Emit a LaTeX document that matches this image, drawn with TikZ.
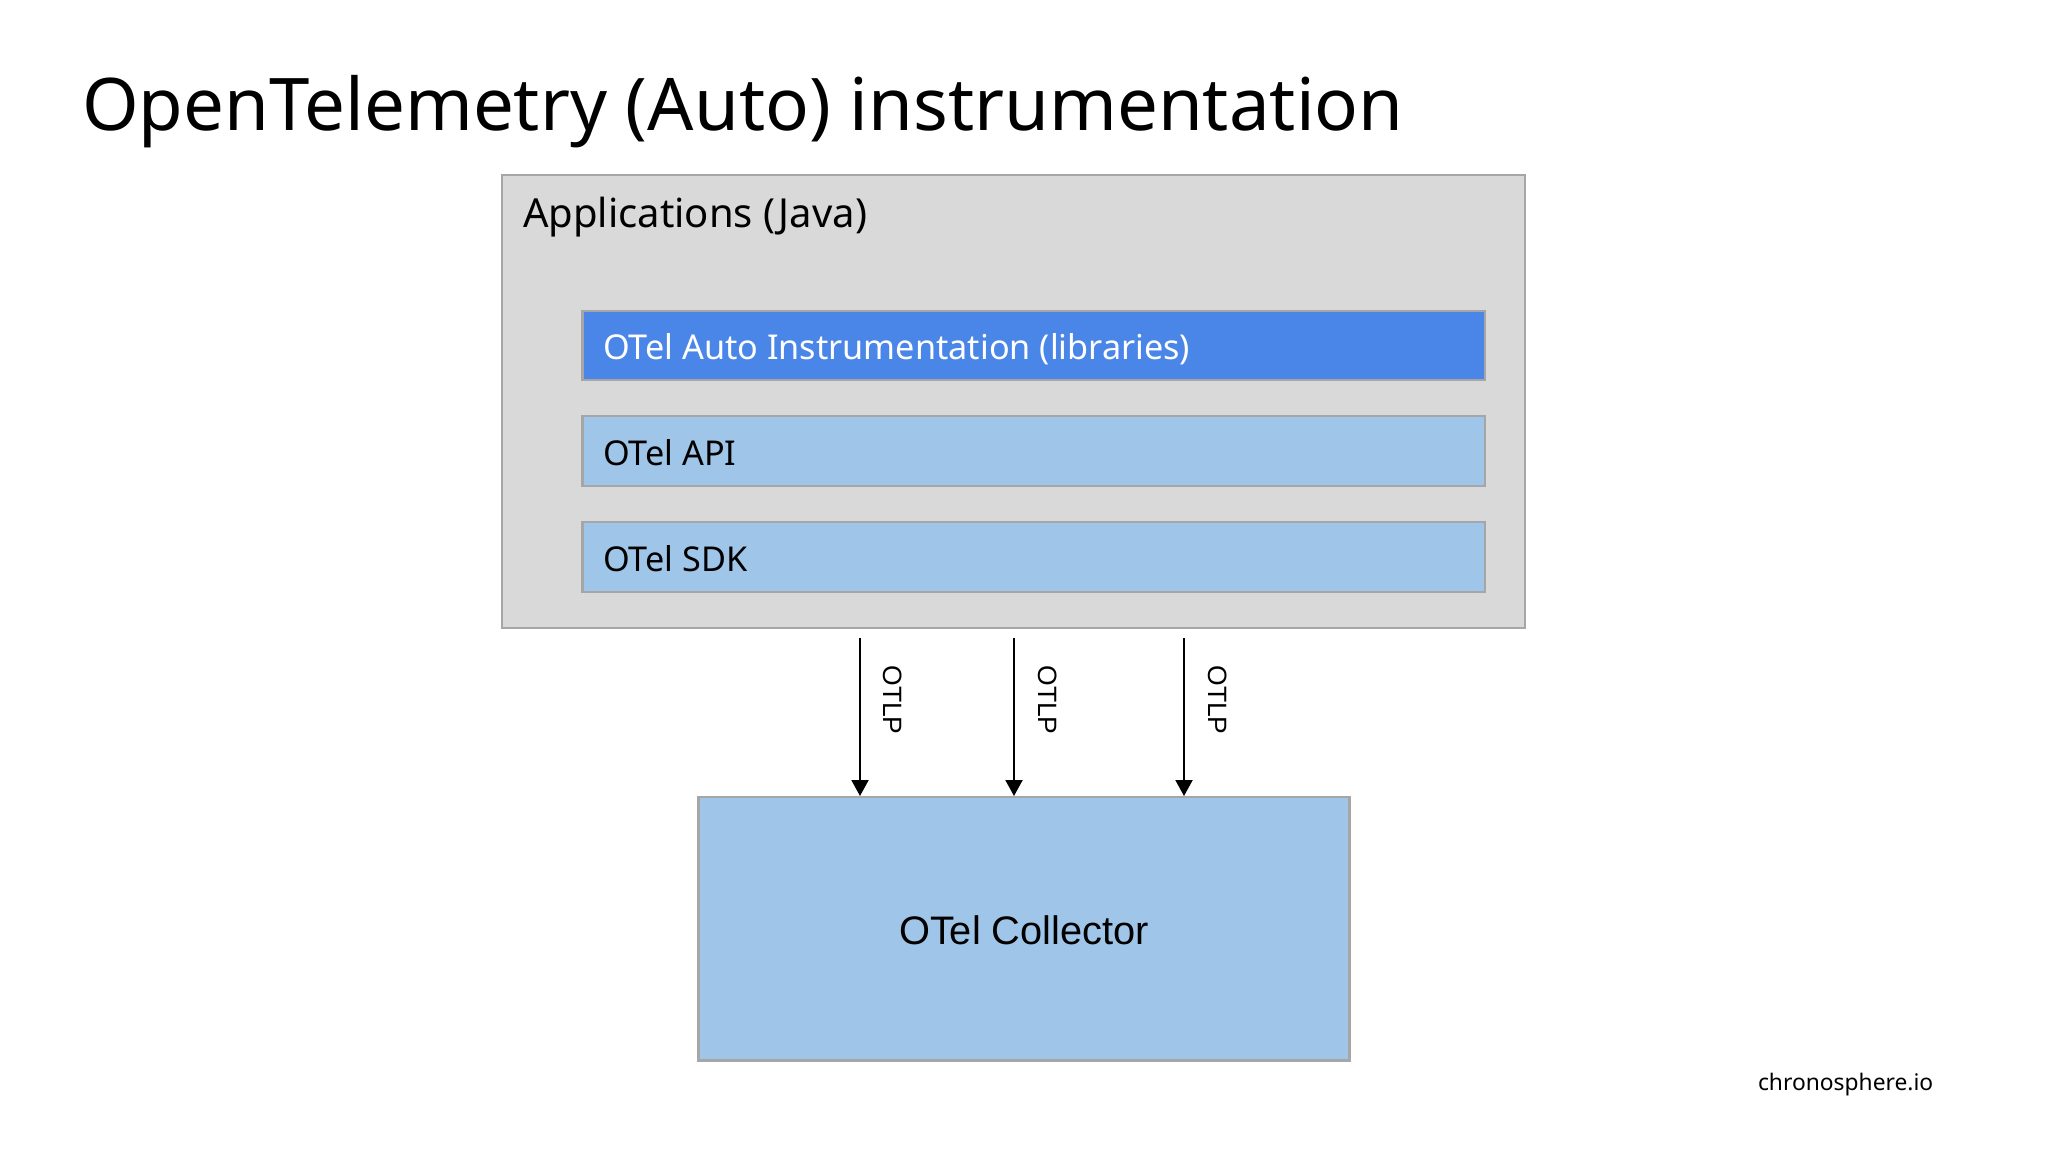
\documentclass[tikz,border=0pt]{standalone}
\usepackage{fontspec}
\setmainfont{Noto Sans}
\newfontfamily\arialfont{Liberation Sans}
\usetikzlibrary{arrows.meta,calc}
\definecolor{panelgrey}{HTML}{D9D9D9}
\definecolor{edgegrey}{HTML}{A6A6A6}
\definecolor{strongblue}{HTML}{4A86E8}
\definecolor{softblue}{HTML}{9FC5E8}
\newcommand{\boxat}[6]{\node[#2, minimum width=#5pt-#3pt, minimum height=#6pt-#4pt, anchor=north west] (#1) at (#3,#4) {};}
\tikzset{
  x=1pt, y=-1pt,
  panel/.style={draw=edgegrey, line width=2.4pt, fill=panelgrey, inner sep=0pt, outer sep=0pt},
  layerstrong/.style={draw=edgegrey, line width=2.4pt, fill=strongblue, inner sep=0pt, outer sep=0pt},
  layersoft/.style={draw=edgegrey, line width=2.4pt, fill=softblue, inner sep=0pt, outer sep=0pt},
  txt/.style={anchor=base west, inner sep=0pt, outer sep=0pt, text=black},
  flow/.style={line width=2pt, black, -{Triangle[length=16pt, width=17pt]}},
  otlp/.style={font=\arialfont\fontsize{26.5}{30}\selectfont, rotate=-90, inner sep=0pt, text=black},
}
\begin{document}
\begin{tikzpicture}
\useasboundingbox (0,0) rectangle (2048,1152);
\fill[white] (0,0) rectangle (2048,1152);
\node[txt, font=\fontsize{72.6}{88}\selectfont] (title) at (82,130) {OpenTelemetry (Auto) instrumentation};
\boxat{apps}{panel}{502}{175}{1525}{628}
\node[txt, font=\fontsize{40}{48}\selectfont] (appstext) at (523,227) {Applications (Java)};
\boxat{auto}{layerstrong}{582.5}{311}{1485}{380}
\node[txt, font=\fontsize{34.2}{42}\selectfont, text=white] (autotext) at (603,359) {OTel Auto Instrumentation (libraries)};
\boxat{api}{layersoft}{582.5}{416}{1485}{486}
\node[txt, font=\fontsize{34.2}{42}\selectfont] (apitext) at (603,465) {OTel API};
\boxat{sdk}{layersoft}{582.5}{522}{1485}{592}
\node[txt, font=\fontsize{34.2}{42}\selectfont] (sdktext) at (603,571) {OTel SDK};
\boxat{coll}{layersoft}{698.5}{797}{1349.5}{1060.5}
\node[inner sep=0pt, font=\arialfont\fontsize{39.8}{48}\selectfont] (colltext) at ($(coll.center)+(0,1.5)$) {OTel Collector};
\node[txt, font=\fontsize{22.8}{30}\selectfont] (brand) at (1758,1090) {chronosphere.io};
\coordinate (s1) at (860,638);
\coordinate (s2) at (1014,638);
\coordinate (s3) at (1184,638);
\draw[flow] (s1) -- ($(s1 |- coll.north)+(0,-1)$);
\draw[flow] (s2) -- ($(s2 |- coll.north)+(0,-1)$);
\draw[flow] (s3) -- ($(s3 |- coll.north)+(0,-1)$);
\node[otlp] (l1) at (892.5,700) {OTLP};
\node[otlp] (l2) at (1047.5,700) {OTLP};
\node[otlp] (l3) at (1217.5,700) {OTLP};
\end{tikzpicture}
\end{document}
